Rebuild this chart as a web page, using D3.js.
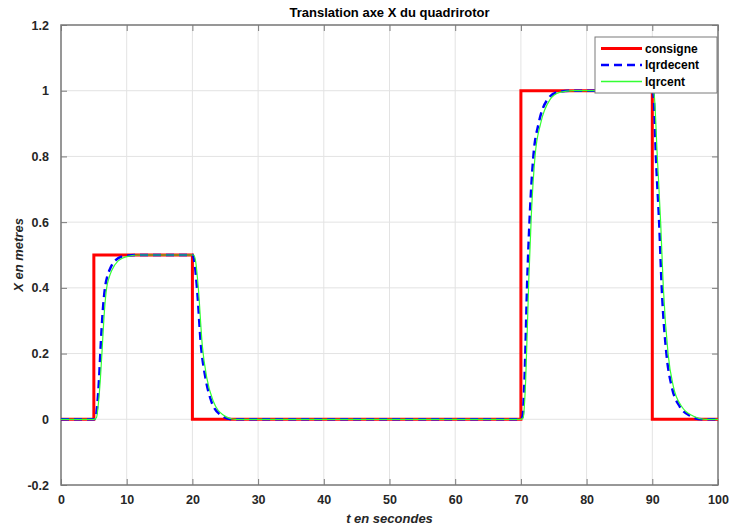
<!DOCTYPE html>
<html>
<head>
<meta charset="utf-8">
<script src="https://cdn.jsdelivr.net/npm/d3@7"></script>
<style>
  body { margin: 0; background: #fff; }
  svg { display: block; font-family: "Liberation Sans", Arial, sans-serif; }
</style>
</head>
<body>
<svg id="chart"></svg>
<script>
// consigne (setpoint steps)
const consigneT = [0, 5, 5, 20, 20, 70, 70, 90, 90, 100];
const consigneX = [0, 0, 0.5, 0.5, 0, 0, 1, 1, 0, 0];

// lqrdecent
const decentT = [0, 5, 5.3, 5.55, 5.8, 6.05, 6.35, 6.7, 7.05, 7.4, 8.3, 9.7, 11.5,
  20.05, 20.3, 20.7, 21.3, 22.0, 22.9, 24.3, 26,
  70, 70.25, 70.55, 70.97, 71.37, 71.9, 72.7, 74.0, 75.5, 77.5,
  90.05, 90.2, 90.55, 91.05, 91.43, 92.15, 92.95, 94.2, 95.8, 97.5, 100];
const decentX = [0, 0, 0.008, 0.05, 0.125, 0.226, 0.327, 0.40, 0.435, 0.455, 0.484, 0.497, 0.5,
  0.5, 0.48, 0.40, 0.226, 0.125, 0.054, 0.013, 0,
  0, 0.008, 0.12, 0.424, 0.627, 0.80, 0.90, 0.972, 0.995, 1.0,
  1.0, 0.985, 0.80, 0.596, 0.404, 0.20, 0.10, 0.038, 0.01, 0, 0];

// lqrcent
const centT = [0, 5, 5.4, 5.7, 6.0, 6.3, 6.6, 6.95, 7.3, 7.7, 8.7, 10.2, 12,
  20.2, 20.5, 20.9, 21.5, 22.2, 23.2, 24.7, 26.5,
  70, 70.35, 70.73, 71.2, 71.6, 72.15, 73.0, 74.4, 75.9, 78,
  90.15, 90.3, 90.76, 91.28, 91.67, 92.4, 93.2, 94.5, 96.2, 98, 100];
const centX = [0, 0, 0.005, 0.05, 0.125, 0.226, 0.327, 0.40, 0.43, 0.452, 0.482, 0.496, 0.5,
  0.5, 0.48, 0.40, 0.226, 0.125, 0.054, 0.013, 0,
  0, 0.005, 0.12, 0.424, 0.627, 0.80, 0.90, 0.972, 0.995, 1.0,
  1.0, 0.985, 0.80, 0.596, 0.404, 0.20, 0.10, 0.038, 0.01, 0, 0];

const xTicks = d3.range(0, 101, 10);
const yTicks = [-0.2, 0, 0.2, 0.4, 0.6, 0.8, 1, 1.2];
const seriesNames = ["consigne", "lqrdecent", "lqrcent"];

const width = 733, height = 532;
const margin = { top: 25, right: 15, bottom: 47, left: 61 };

const svg = d3.select("#chart")
  .attr("width", width)
  .attr("height", height);

const x = d3.scaleLinear().domain([0, 100]).range([margin.left, width - margin.right]);
const y = d3.scaleLinear().domain([-0.2, 1.2]).range([height - margin.bottom, margin.top]);

// grid
svg.append("g")
  .selectAll("line")
  .data(xTicks)
  .join("line")
  .attr("x1", d => x(d)).attr("x2", d => x(d))
  .attr("y1", y.range()[0]).attr("y2", y.range()[1])
  .attr("stroke", "#e3e3e3");
svg.append("g")
  .selectAll("line")
  .data(yTicks)
  .join("line")
  .attr("y1", d => y(d)).attr("y2", d => y(d))
  .attr("x1", x.range()[0]).attr("x2", x.range()[1])
  .attr("stroke", "#e3e3e3");

// axes (ticks inward, mirrored)
const fmt = d => String(+d.toFixed(1));
const styleAxis = g => {
  g.select(".domain").remove();
  g.selectAll(".tick line").attr("stroke", "#7a7a7a");
  g.selectAll(".tick text")
    .attr("fill", "#262626")
    .style("font-size", "12.5px")
    .style("font-weight", "bold");
};

svg.append("g")
  .attr("transform", `translate(0,${y(-0.2)})`)
  .call(d3.axisBottom(x).tickValues(xTicks).tickSize(-6).tickPadding(10).tickFormat(fmt))
  .call(styleAxis);
svg.append("g")
  .attr("transform", `translate(0,${y(1.2)})`)
  .call(d3.axisTop(x).tickValues(xTicks).tickSize(-6).tickFormat(""))
  .call(styleAxis);
svg.append("g")
  .attr("transform", `translate(${x(0)},0)`)
  .call(d3.axisLeft(y).tickValues(yTicks).tickSize(-6).tickPadding(12).tickFormat(fmt))
  .call(styleAxis);
svg.append("g")
  .attr("transform", `translate(${x(100)},0)`)
  .call(d3.axisRight(y).tickValues(yTicks).tickSize(-6).tickFormat(""))
  .call(styleAxis);

// box
svg.append("rect")
  .attr("x", x(0)).attr("y", y(1.2))
  .attr("width", x(100) - x(0)).attr("height", y(-0.2) - y(1.2))
  .attr("fill", "none")
  .attr("stroke", "#7a7a7a")
  .attr("stroke-width", 1.5);

// lines
const stepLine = d3.line().x(d => x(d[0])).y(d => y(d[1]));
const smoothLine = d3.line().x(d => x(d[0])).y(d => y(d[1])).curve(d3.curveMonotoneX);

svg.append("path")
  .datum(d3.zip(consigneT, consigneX))
  .attr("d", stepLine)
  .attr("fill", "none")
  .attr("stroke", "#ff0000")
  .attr("stroke-width", 3);

svg.append("path")
  .datum(d3.zip(decentT, decentX))
  .attr("d", smoothLine)
  .attr("fill", "none")
  .attr("stroke", "#0000ff")
  .attr("stroke-width", 2.5)
  .attr("stroke-dasharray", "8,5");

svg.append("path")
  .datum(d3.zip(centT, centX))
  .attr("d", smoothLine)
  .attr("fill", "none")
  .attr("stroke", "#33ff33")
  .attr("stroke-width", 1.2);

// title and labels
svg.append("text")
  .attr("x", (x(0) + x(100)) / 2)
  .attr("y", 17)
  .attr("text-anchor", "middle")
  .style("font-size", "13px")
  .style("font-weight", "bold")
  .attr("fill", "#000")
  .text("Translation axe X du quadrirotor");

svg.append("text")
  .attr("x", (x(0) + x(100)) / 2)
  .attr("y", 523)
  .attr("text-anchor", "middle")
  .style("font-size", "13px")
  .style("font-weight", "bold")
  .style("font-style", "italic")
  .attr("fill", "#262626")
  .text("t en secondes");

svg.append("text")
  .attr("transform", `translate(23,${(y(-0.2) + y(1.2)) / 2}) rotate(-90)`)
  .attr("text-anchor", "middle")
  .style("font-size", "13px")
  .style("font-weight", "bold")
  .style("font-style", "italic")
  .attr("fill", "#262626")
  .text("X en metres");

// legend
const legend = svg.append("g").attr("transform", "translate(595,37)");
legend.append("rect")
  .attr("width", 122).attr("height", 56)
  .attr("fill", "#fff")
  .attr("stroke", "#7a7a7a");

const legendStyles = [
  { color: "#ff0000", width: 3, dash: null },
  { color: "#0000ff", width: 2.5, dash: "8,5" },
  { color: "#33ff33", width: 1.6, dash: null }
];

const items = legend.selectAll(".item")
  .data(seriesNames)
  .join("g")
  .attr("class", "item")
  .attr("transform", (d, i) => `translate(0,${11.5 + i * 16.5})`);

items.append("line")
  .attr("x1", 6).attr("x2", 47)
  .attr("stroke", (d, i) => legendStyles[i].color)
  .attr("stroke-width", (d, i) => legendStyles[i].width)
  .attr("stroke-dasharray", (d, i) => legendStyles[i].dash);

items.append("text")
  .attr("x", 50)
  .attr("dy", "0.35em")
  .style("font-size", "12px")
  .style("font-weight", "bold")
  .attr("fill", "#000")
  .text(d => d);
</script>
</body>
</html>
